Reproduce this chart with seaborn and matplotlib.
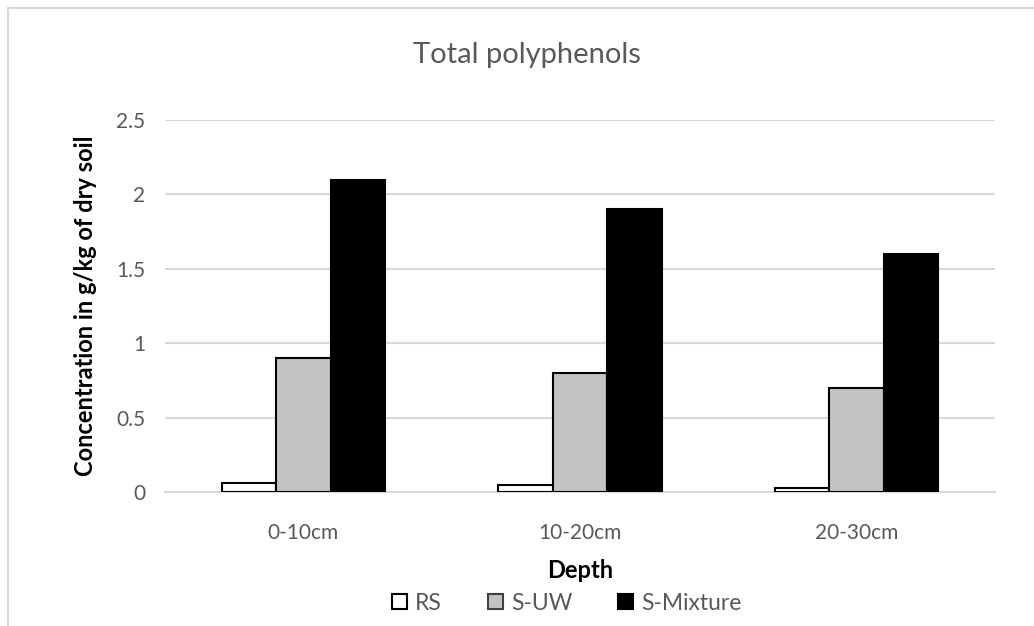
import matplotlib
matplotlib.use("Agg")
import matplotlib.pyplot as plt
import seaborn as sns
import pandas as pd
from matplotlib.lines import Line2D
from matplotlib.patches import Patch

depths = ["0-10cm", "10-20cm", "20-30cm"]
series = ["RS", "S-UW", "S-Mixture"]
rs_values = [0.06, 0.05, 0.03]
suw_values = [0.9, 0.8, 0.7]
smix_values = [2.1, 1.9, 1.6]
colors = ["#ffffff", "#c3c3c3", "#000000"]
yticks = [0, 0.5, 1, 1.5, 2, 2.5]
ytick_labels = ["0", "0.5", "1", "1.5", "2", "2.5"]

rows = []
for name, vals in zip(series, [rs_values, suw_values, smix_values]):
    for d, v in zip(depths, vals):
        rows.append({"Depth": d, "Series": name, "Value": v})
df = pd.DataFrame(rows)

sns.set_theme(style="white")
plt.rcParams["font.family"] = ["Lato", "DejaVu Sans"]

fig = plt.figure(figsize=(10.34, 6.26), dpi=100)
ax = fig.add_axes([165 / 1034, 1 - 492 / 626, (995 - 165) / 1034, (492 - 120) / 626])

sns.barplot(data=df, x="Depth", y="Value", hue="Series", order=depths,
            hue_order=series, palette=colors, width=0.59, edgecolor="black",
            linewidth=1.5, ax=ax, legend=False, zorder=3)

ax.set_xlim(-0.5, 2.5)
ax.set_ylim(0, 2.5)
ax.set_yticks(yticks)
ax.set_yticklabels(ytick_labels)
ax.yaxis.grid(True, color="#d9d9d9", linewidth=1.5, zorder=0)
ax.set_axisbelow(True)
for s in ["top", "right", "left"]:
    ax.spines[s].set_visible(False)
ax.spines["bottom"].set_color("#d9d9d9")
ax.spines["bottom"].set_linewidth(1.5)
ax.tick_params(axis="both", length=0, labelsize=15, colors="#595959", pad=14)
ax.tick_params(axis="x", pad=22)

ax.set_xlabel("Depth", fontsize=17, fontweight="bold", color="#000000", labelpad=12)
ax.set_ylabel("Concentration in g/kg of dry soil", fontsize=17, fontweight="bold",
              color="#000000", labelpad=14)

fig.text(527 / 1034, 1 - 55 / 626, "Total polyphenols", ha="center", va="center",
         fontsize=21, color="#595959")

handles = [Patch(facecolor=c, edgecolor="black", linewidth=1.5) for c in colors]
handles[1].set_edgecolor("#404040")
fig.legend(handles, series, loc="center", bbox_to_anchor=(567 / 1034, 1 - 603 / 626),
           ncol=3, frameon=False, fontsize=16.5, handlelength=0.65, handleheight=0.65,
           handletextpad=0.35, columnspacing=2.0, labelcolor="#595959")

fig.add_artist(Line2D([8 / 1034, 1], [1 - 8 / 626, 1 - 8 / 626], color="#d9d9d9",
                      linewidth=1.5, transform=fig.transFigure))
fig.add_artist(Line2D([8 / 1034, 8 / 1034], [0, 1 - 8 / 626], color="#d9d9d9",
                      linewidth=1.5, transform=fig.transFigure))

fig.savefig("out.png", dpi=100, facecolor="white")
